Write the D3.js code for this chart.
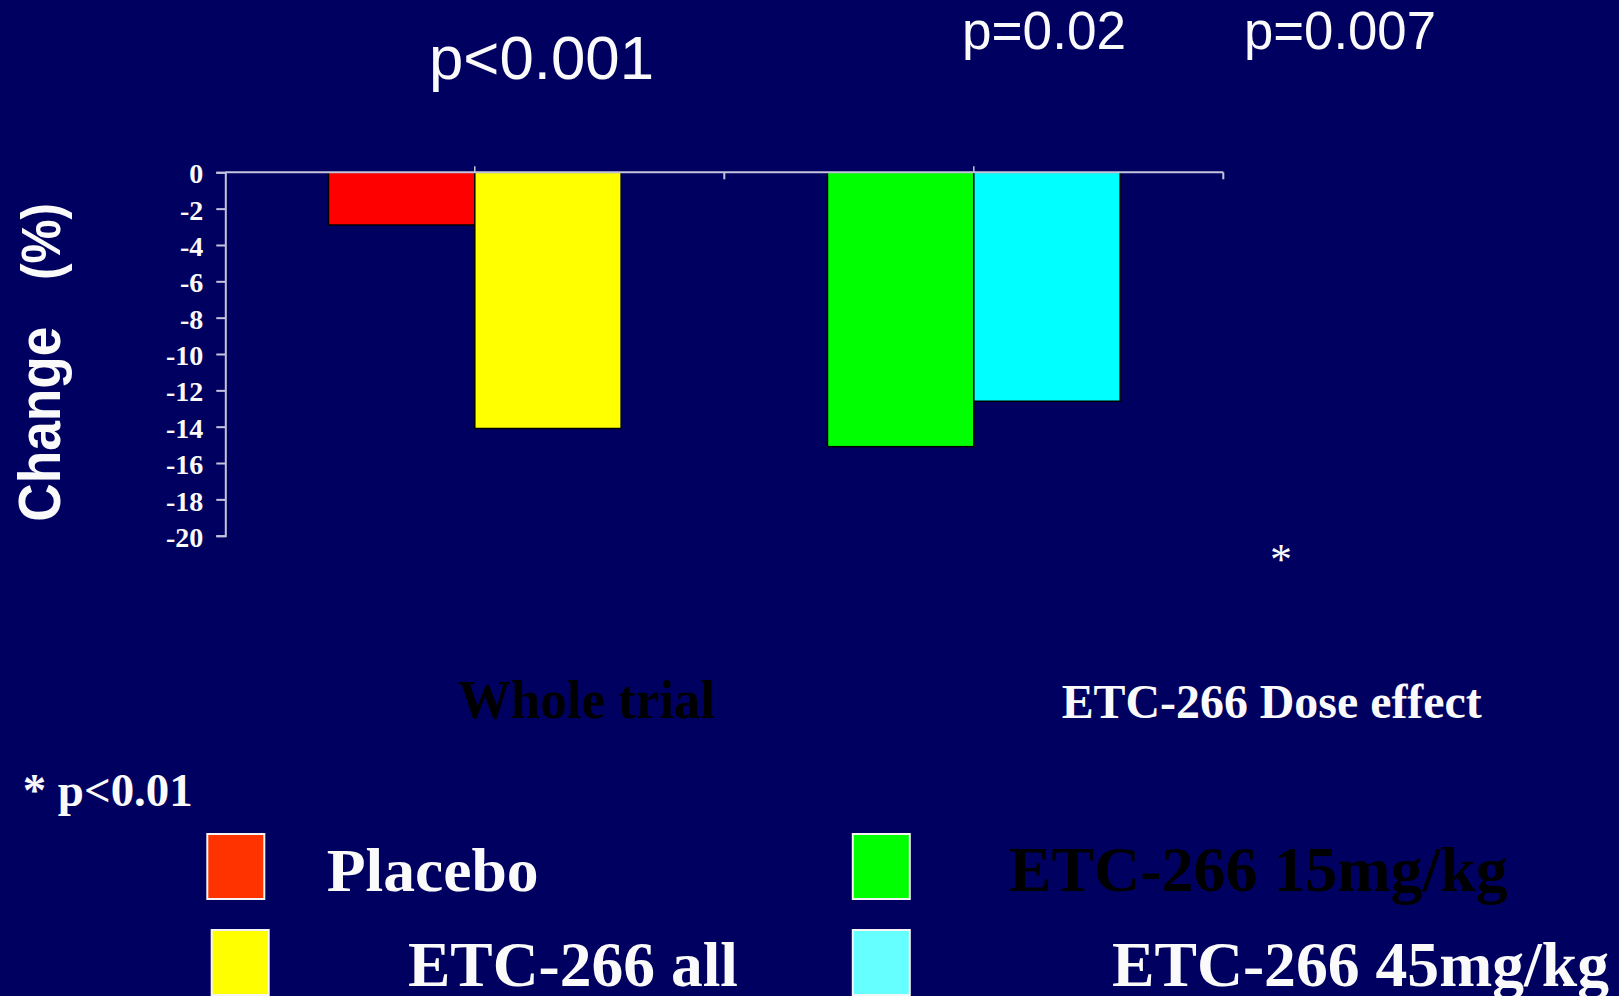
<!DOCTYPE html>
<html>
<head>
<meta charset="utf-8">
<script src="https://cdn.jsdelivr.net/npm/d3@7"></script>
<style>
  html, body { margin: 0; padding: 0; background: #000060; }
  svg { display: block; }
</style>
</head>
<body>
<svg id="chart" width="1619" height="996"></svg>
<script>
// Category groups along the x axis
const categories = ["Whole trial", "ETC-266 Dose effect"];

// Bars inside each group (left bar, right bar)
const wholeTrialSeries = ["Placebo", "ETC-266 all"];
const wholeTrialValues = [-2.9, -14.1];
const doseSeries = ["ETC-266 15mg/kg", "ETC-266 45mg/kg"];
const doseValues = [-15.1, -12.6];

// Y axis ticks
const yTicks = [0, -2, -4, -6, -8, -10, -12, -14, -16, -18, -20];

// Bar and legend colours per series
const barColors = {
  "Placebo": "#ff0000",
  "ETC-266 all": "#ffff00",
  "ETC-266 15mg/kg": "#00ff00",
  "ETC-266 45mg/kg": "#00ffff"
};
const legendColors = {
  "Placebo": "#ff3300",
  "ETC-266 all": "#ffff00",
  "ETC-266 15mg/kg": "#00ff00",
  "ETC-266 45mg/kg": "#66ffff"
};

// p-value annotations
const pLabels = ["p<0.001", "p=0.02", "p=0.007"];

const svg = d3.select("#chart");
const W = 1619, H = 996;
svg.append("rect").attr("width", W).attr("height", H).attr("fill", "#000060");

const plot = { left: 225.3, right: 1223.3, top: 172.3, bottom: 535.7 };

const y = d3.scaleLinear().domain([-20, 0]).range([plot.bottom, plot.top]);
const xGroup = d3.scaleBand().domain(categories).range([plot.left, plot.right]).padding(0);
const xInner = d3.scaleBand().domain([0, 1]).range([0, xGroup.bandwidth()])
  .paddingInner(0).paddingOuter(0.705);

const bars = [];
wholeTrialSeries.forEach((s, i) => bars.push({ group: categories[0], idx: i, series: s, value: wholeTrialValues[i] }));
doseSeries.forEach((s, i) => bars.push({ group: categories[1], idx: i, series: s, value: doseValues[i] }));

// Bars hang down from zero
svg.append("g").selectAll("rect")
  .data(bars)
  .join("rect")
  .attr("x", d => xGroup(d.group) + xInner(d.idx))
  .attr("y", y(0))
  .attr("width", xInner.bandwidth())
  .attr("height", d => y(d.value) - y(0))
  .attr("fill", d => barColors[d.series])
  .attr("stroke", "#000")
  .attr("stroke-width", 1.5);

const axisColor = "#c4c4dc";

// Y axis
const yAxis = svg.append("g")
  .attr("transform", `translate(${plot.left},0)`)
  .call(d3.axisLeft(y).tickValues(yTicks).tickSize(9).tickPadding(13).tickFormat(d3.format("d")));
yAxis.select(".domain").attr("stroke", axisColor).attr("stroke-width", 2);
yAxis.selectAll(".tick line").attr("stroke", axisColor).attr("stroke-width", 2);
yAxis.selectAll(".tick text")
  .attr("fill", "#fafafa")
  .attr("font-family", "'Liberation Serif', 'Times New Roman', serif")
  .attr("font-weight", "bold")
  .attr("font-size", 28)
  .attr("dy", "0.38em")
  .text(d => d === 0 ? "0" : "-" + Math.abs(d));

// X axis along zero
const xAxis = svg.append("g");
xAxis.append("line")
  .attr("x1", plot.left).attr("x2", xGroup.range()[1])
  .attr("y1", y(0)).attr("y2", y(0))
  .attr("stroke", axisColor).attr("stroke-width", 2);
// Boundary ticks between categories and at the end
const boundaries = categories.slice(1).map(c => xGroup(c)).concat([xGroup.range()[1]]);
xAxis.selectAll("line.bnd")
  .data(boundaries)
  .join("line")
  .attr("class", "bnd")
  .attr("x1", d => d).attr("x2", d => d)
  .attr("y1", y(0)).attr("y2", y(0) + 7)
  .attr("stroke", axisColor).attr("stroke-width", 2);
// Small marks at group centres
xAxis.selectAll("line.mid")
  .data(categories)
  .join("line")
  .attr("class", "mid")
  .attr("x1", d => xGroup(d) + xGroup.bandwidth() / 2)
  .attr("x2", d => xGroup(d) + xGroup.bandwidth() / 2)
  .attr("y1", y(0)).attr("y2", y(0) - 6)
  .attr("stroke", axisColor).attr("stroke-width", 1.5);

// Y axis title
const sans = "'Liberation Sans', Arial, Helvetica, sans-serif";
const serif = "'Liberation Serif', 'Times New Roman', serif";
svg.append("text")
  .attr("transform", "translate(60,521.7) rotate(-90)")
  .attr("font-family", sans).attr("font-weight", "bold").attr("font-size", 60)
  .attr("fill", "#fafafa")
  .attr("textLength", 195).attr("lengthAdjust", "spacingAndGlyphs")
  .text("Change");
svg.append("text")
  .attr("transform", "translate(60,280) rotate(-90)")
  .attr("font-family", sans).attr("font-weight", "bold").attr("font-size", 56)
  .attr("fill", "#fafafa")
  .attr("textLength", 77).attr("lengthAdjust", "spacingAndGlyphs")
  .text("(%)");

// p-values above the bars
const pPos = [
  { x: 429, y: 79, size: 62, len: 225 },
  { x: 962, y: 48.5, size: 53, len: 164 },
  { x: 1244, y: 48.5, size: 53, len: 192 }
];
svg.append("g").selectAll("text")
  .data(pLabels)
  .join("text")
  .attr("x", (d, i) => pPos[i].x)
  .attr("y", (d, i) => pPos[i].y)
  .attr("font-family", sans)
  .attr("font-size", (d, i) => pPos[i].size)
  .attr("fill", "#fafafa")
  .attr("textLength", (d, i) => pPos[i].len)
  .attr("lengthAdjust", "spacingAndGlyphs")
  .text(d => d);

// Group captions
svg.append("text")
  .attr("x", 458).attr("y", 717.6)
  .attr("font-family", serif).attr("font-weight", "bold").attr("font-size", 54)
  .attr("fill", "#000")
  .attr("textLength", 257).attr("lengthAdjust", "spacingAndGlyphs")
  .text(categories[0]);
svg.append("text")
  .attr("x", 1061.7).attr("y", 717.7)
  .attr("font-family", serif).attr("font-weight", "bold").attr("font-size", 48)
  .attr("fill", "#fafafa")
  .attr("textLength", 420).attr("lengthAdjust", "spacingAndGlyphs")
  .text(categories[1]);

// Significance marker
svg.append("text")
  .attr("x", 1270).attr("y", 574)
  .attr("font-family", serif).attr("font-size", 44)
  .attr("fill", "#fafafa")
  .text("*");
svg.append("text")
  .attr("x", 22.7).attr("y", 806)
  .attr("font-family", serif).attr("font-weight", "bold").attr("font-size", 46)
  .attr("fill", "#fafafa")
  .attr("textLength", 170).attr("lengthAdjust", "spacingAndGlyphs")
  .text("* p<0.01");

// Legend
const legendItems = [
  { name: "Placebo", sx: 207.3, sy: 834, tx: 326.7, ty: 890.7, len: 212, size: 62, color: "#fafafa" },
  { name: "ETC-266 all", sx: 211.7, sy: 930, tx: 408, ty: 985.7, len: 330, size: 64, color: "#fafafa" },
  { name: "ETC-266 15mg/kg", sx: 852.8, sy: 834, tx: 1008.8, ty: 890.7, len: 499, size: 64, color: "#000" },
  { name: "ETC-266 45mg/kg", sx: 852.8, sy: 930, tx: 1112, ty: 985.7, len: 497, size: 64, color: "#fafafa" }
];
const lg = svg.append("g");
lg.selectAll("rect")
  .data(legendItems)
  .join("rect")
  .attr("x", d => d.sx).attr("y", d => d.sy)
  .attr("width", 57).attr("height", 65)
  .attr("fill", d => legendColors[d.name])
  .attr("stroke", "#f4f4f4").attr("stroke-width", 2);
lg.selectAll("text")
  .data(legendItems)
  .join("text")
  .attr("x", d => d.tx).attr("y", d => d.ty)
  .attr("font-family", serif).attr("font-weight", "bold")
  .attr("font-size", d => d.size)
  .attr("fill", d => d.color)
  .attr("textLength", d => d.len).attr("lengthAdjust", "spacingAndGlyphs")
  .text(d => d.name);
</script>
</body>
</html>
